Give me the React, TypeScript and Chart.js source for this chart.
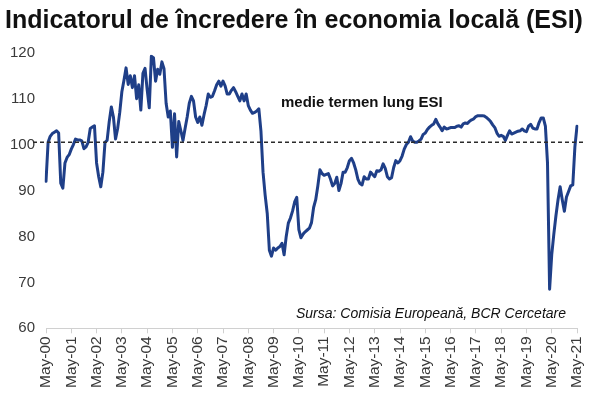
import React, { useEffect, useRef } from "react";
import { Chart, registerables } from "chart.js";

Chart.register(...registerables);

// Monthly ESI values, each row runs May..Apr
const esi2000 = [92, 100.5, 101.8, 102.4, 102.7, 103, 102.5, 91.6, 90.5, 96, 97.2, 97.8];
const esi2001 = [99, 100, 101.2, 101, 101, 100.8, 99.1, 99.5, 100.5, 103.5, 103.8, 104.1];
const esi2002 = [96, 93, 90.8, 94, 100.5, 100.9, 105, 108.2, 106, 101.2, 103.5, 107];
const esi2003 = [111.5, 114, 116.7, 113.1, 115, 112.4, 115, 110, 113, 107.5, 115.5, 116.6];
const esi2004 = [112, 108, 119.2, 118.9, 113.8, 116.4, 115.3, 118, 116.5, 109, 106, 107.3];
const esi2005 = [99.4, 106.7, 97.3, 105, 103, 100.9, 103.5, 106, 109, 110.5, 109.5, 106];
const esi2006 = [104.8, 106, 104.2, 106.5, 108.5, 111, 110.3, 110.5, 111.7, 113, 113.8, 112.7];
const esi2007 = [113.8, 112.8, 111, 111, 111.8, 112.4, 111.5, 110.5, 109.5, 111, 109.5, 111];
const esi2008 = [108.5, 107.5, 106.8, 107, 107.3, 107.8, 103, 94, 89, 85, 77, 75.7];
const esi2009 = [77.5, 77, 77.5, 77.8, 78.5, 76, 80, 82.9, 84, 85.5, 87.5, 88.5];
const esi2010 = [81.5, 79.7, 80.5, 81, 81.4, 81.8, 83, 86.3, 88, 91, 94.5, 93.7];
const esi2011 = [93.3, 93.5, 93.7, 92.5, 91, 91.5, 92.9, 90, 91.5, 94, 94, 95];
const esi2012 = [96.5, 97, 96, 94.5, 92.5, 91.5, 91.2, 93, 92.5, 92.5, 94, 93.5];
const esi2013 = [93, 94.3, 94.2, 94.5, 95.8, 94.8, 93, 92.5, 92.8, 95, 96.5, 96];
const esi2014 = [96.5, 97.5, 99, 100, 100.5, 101.7, 100.8, 100.5, 100.5, 100.8, 101.2, 102.2];
const esi2015 = [102.5, 103.3, 103.8, 104.2, 104.5, 105.5, 104.5, 103.8, 103, 103.8, 103.4, 103.5];
const esi2016 = [103.7, 103.7, 103.7, 104, 104.1, 103.8, 104.5, 104.7, 104.6, 105.1, 105.4, 105.6];
const esi2017 = [106.1, 106.3, 106.3, 106.3, 106.2, 105.9, 105.5, 105, 104.3, 103.7, 102.5, 101.8];
const esi2018 = [102, 101.8, 100.9, 102, 103, 102.3, 102.5, 102.7, 102.9, 103, 103.4, 103];
const esi2019 = [102.8, 104, 104.4, 103.6, 103.4, 103.4, 104.8, 105.8, 105.8, 104, 96, 68.5];
const esi2020 = [76, 80.5, 84.5, 88, 90.8, 88, 85.5, 88.6, 89.8, 91, 91.2, 99.5, 104];

const esiValues = [
  ...esi2000, ...esi2001, ...esi2002, ...esi2003, ...esi2004, ...esi2005, ...esi2006,
  ...esi2007, ...esi2008, ...esi2009, ...esi2010, ...esi2011, ...esi2012, ...esi2013,
  ...esi2014, ...esi2015, ...esi2016, ...esi2017, ...esi2018, ...esi2019, ...esi2020,
];

const monthNames = ["May", "Jun", "Jul", "Aug", "Sep", "Oct", "Nov", "Dec", "Jan", "Feb", "Mar", "Apr"];
const startYear = 2000;
const categories = esiValues.map((_, i) => {
  const yr = startYear + Math.floor((i + 4) / 12);
  return `${monthNames[i % 12]}-${String(yr % 100).padStart(2, "0")}`;
});

const longTermAverage = 100.5;
const yTicks = [60, 70, 80, 90, 100, 110, 120];

const titleText = "Indicatorul de încredere în economia locală (ESI)";
const avgLabel = "medie termen lung ESI";
const sourceText = "Sursa: Comisia Europeană, BCR Cercetare";

const FONT = "'Liberation Sans', Arial, sans-serif";

const textPlugin = {
  id: "textPlugin",
  afterDraw(chart: any) {
    const ctx = chart.ctx;
    const ys = chart.scales.y;
    const ca = chart.chartArea;
    ctx.save();
    // long-term average dashed line
    const yAvg = ys.getPixelForValue(longTermAverage);
    ctx.strokeStyle = "#2b2b2b";
    ctx.lineWidth = 1.3;
    ctx.setLineDash([4, 3]);
    ctx.beginPath();
    ctx.moveTo(ca.left - 13, yAvg);
    ctx.lineTo(ca.right + 6, yAvg);
    ctx.stroke();
    ctx.setLineDash([]);

    ctx.fillStyle = "#111";
    ctx.textAlign = "left";
    ctx.textBaseline = "alphabetic";
    ctx.font = `bold 25px ${FONT}`;
    ctx.fillText(titleText, 5, 28);

    ctx.textBaseline = "middle";
    ctx.font = `bold 15px ${FONT}`;
    ctx.fillText(avgLabel, 281, 103);

    ctx.font = `italic 14px ${FONT}`;
    ctx.fillText(sourceText, 296, 314);
    ctx.restore();
  },
};

export default function App() {
  const ref = useRef<HTMLCanvasElement | null>(null);
  useEffect(() => {
    document.body.style.margin = "0";
    const canvas = ref.current;
    if (!canvas) return;
    const chart = new Chart(canvas, {
      type: "line",
      data: {
        labels: categories,
        datasets: [
          {
            data: esiValues,
            borderColor: "#1f3f88",
            borderWidth: 3,
            pointRadius: 0,
            tension: 0,
            borderJoinStyle: "round",
            borderCapStyle: "round",
          },
        ],
      },
      options: {
        animation: false,
        responsive: true,
        maintainAspectRatio: false,
        layout: { padding: { top: 52.7, right: 23, bottom: 0, left: 0 } },
        plugins: {
          legend: { display: false },
          tooltip: { enabled: false },
          title: { display: false },
        },
        scales: {
          x: {
            type: "category",
            offset: false,
            grid: {
              drawOnChartArea: false,
              color: "#d0d0d0",
              tickLength: 5,
            },
            border: { color: "#d0d0d0", width: 1 },
            ticks: {
              autoSkip: false,
              minRotation: 90,
              maxRotation: 90,
              padding: 3,
              color: "#3a3a3a",
              font: { family: FONT, size: 15.5 },
              callback: function (this: any, value: any) {
                const lab = this.getLabelForValue(value);
                return lab.startsWith("May") ? lab : null;
              },
            },
            afterFit: (scale: any) => {
              scale.height = 68.7;
            },
          },
          y: {
            min: yTicks[0],
            max: yTicks[yTicks.length - 1],
            grid: { display: false, drawTicks: false },
            border: { display: false },
            ticks: {
              stepSize: 10,
              padding: 11,
              color: "#3a3a3a",
              font: { family: FONT, size: 15 },
            },
            afterFit: (scale: any) => {
              scale.width = 46;
            },
          },
        },
      },
      plugins: [textPlugin],
    });
    return () => chart.destroy();
  }, []);
  return (
    <div style={{ position: "relative", width: 600, height: 397 }}>
      <canvas ref={ref} />
    </div>
  );
}
